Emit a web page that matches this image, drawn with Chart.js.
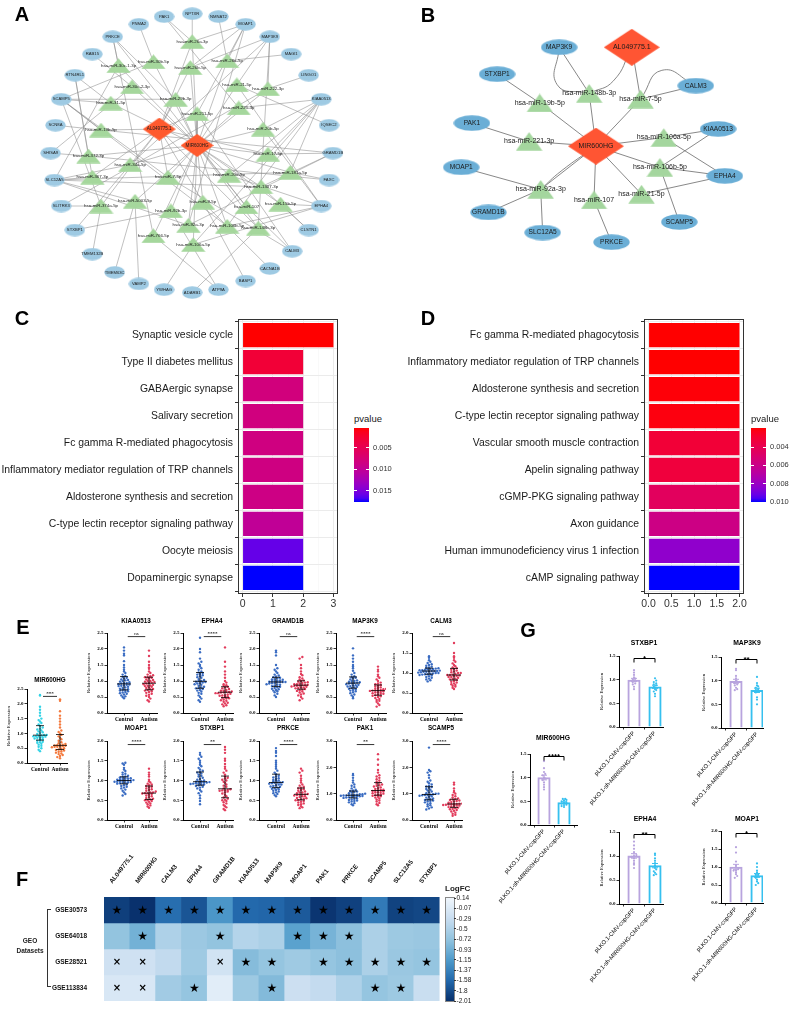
<!DOCTYPE html>
<html><head><meta charset="utf-8">
<script src="https://cdn.jsdelivr.net/npm/chart.js@4.4.1/dist/chart.umd.min.js"></script>
<style>
html,body{margin:0;padding:0;background:#fff}
body{width:789px;height:1017px;position:relative;overflow:hidden}
canvas{position:absolute}
.t{position:absolute;white-space:nowrap;line-height:1}
.cb{position:absolute}
</style></head><body>
<script>
const SANS='"Liberation Sans", Arial, Helvetica, sans-serif';
const SERIF='"Liberation Serif", "Times New Roman", serif';
const DEJ='"DejaVu Sans", sans-serif';

/* ================= DATA ================= */
// ---- Panel A : network (name, layout x, layout y) ----
const genesA=[['PAK1',163,11],['NPTXR',192,8],['NMNAT2',219,11],['MOAP1',247,19],['MAP3K9',272,32],['MAGI1',294,50],['LINGO1',312,72],['KIAA0513',325,97],['IQSEC2',333,124],['GRAMD1B',337,153],['FAXC',333,181],['EPHA4',325,208],['CLSTN1',312,233],['CALM3',295,255],['CACNA1B',272,273],['BASP1',247,286],['ATP9A',219,295],['ADARB1',192,298],['YWHAG',163,295],['VAMP2',137,289],['TMEM63C',112,277],['TMEM132B',89,258],['STXBP1',71,233],['SLITRK3',57,208],['SLC12A5',50,181],['SHISA9',46,153],['SCN8A',51,124],['SCAMP5',57,97],['RTN4RL1',71,72],['RAB15',89,50],['PRKCE',110,32],['PNMA2',137,19]];
const mirsA=[['hsa-miR-26a-3p',192,37],['hsa-miR-30c-1-3p',116,62],['hsa-miR-30b-5p',152,58],['hsa-miR-26b-5p',190,64],['hsa-miR-26a-5p',228,57],['hsa-miR-30c-2-3p',130,84],['hsa-miR-21-5p',238,82],['hsa-miR-222-3p',270,86],['hsa-miR-31-5p',108,101],['hsa-miR-29b-3p',175,97],['hsa-miR-221-3p',240,106],['hsa-miR-211-5p',197,112],['hsa-miR-19b-5p',98,129],['hsa-miR-20b-5p',265,128],['hsa-miR-372-3p',85,156],['hsa-miR-17-5p',270,154],['hsa-miR-34a-5p',128,165],['hsa-miR-181a-5p',293,173],['hsa-miR-367-3p',89,178],['hsa-miR-7-5p',167,178],['hsa-miR-20a-5p',230,176],['hsa-miR-1307-3p',263,188],['hsa-miR-374a-5p',98,208],['hsa-miR-5003-5p',133,203],['hsa-miR-9-5p',203,204],['hsa-miR-92b-3p',170,213],['hsa-miR-107',248,209],['hsa-miR-15b-5p',283,206],['hsa-miR-92a-3p',188,228],['hsa-miR-106b-5p',228,229],['hsa-miR-148b-3p',260,231],['hsa-miR-766-5p',152,239],['hsa-miR-106a-5p',193,248]];
const lncA=[['AL049775.1',158,128],['MIR600HG',197,145]];
const mirTargetsA=[
['MIR600HG','AL049775.1','PAK1','MOAP1','NPTXR'],['MIR600HG','PRKCE','SLC12A5'],['MIR600HG','PNMA2','SCAMP5'],['MIR600HG','AL049775.1','MOAP1','MAP3K9'],['MIR600HG','MAGI1','MOAP1','NMNAT2'],
['MIR600HG','RAB15','SHISA9'],['MIR600HG','MAP3K9','IQSEC2','EPHA4'],['MIR600HG','LINGO1','MAP3K9','SLITRK3'],['MIR600HG','SCAMP5','RTN4RL1'],['MIR600HG','AL049775.1','PRKCE','SCAMP5'],
['MIR600HG','PAK1','KIAA0513'],['MIR600HG','AL049775.1','MOAP1','CALM3'],['AL049775.1','SCN8A','SCAMP5','GRAMD1B'],['MIR600HG','KIAA0513','EPHA4'],['MIR600HG','SHISA9','RTN4RL1','FAXC'],
['MIR600HG','AL049775.1','KIAA0513','GRAMD1B'],['MIR600HG','AL049775.1','SLC12A5','STXBP1','MAP3K9'],['MIR600HG','FAXC','SLC12A5','KIAA0513'],['AL049775.1','SLC12A5','RTN4RL1'],['MIR600HG','AL049775.1','CALM3','SCAMP5'],
['MIR600HG','EPHA4','KIAA0513'],['MIR600HG','CLSTN1','GRAMD1B','SLC12A5'],['AL049775.1','SLITRK3','TMEM132B','SCAMP5'],['MIR600HG','TMEM63C','VAMP2','SLC12A5'],['MIR600HG','AL049775.1','BASP1','CACNA1B'],
['MIR600HG','ATP9A','STXBP1'],['MIR600HG','PRKCE','CALM3'],['MIR600HG','EPHA4','CLSTN1'],['MIR600HG','MOAP1','GRAMD1B','SLC12A5'],['MIR600HG','EPHA4','KIAA0513','SCAMP5'],
['MIR600HG','MAP3K9','AL049775.1','ADARB1'],['MIR600HG','PRKCE','ATP9A'],['MIR600HG','YWHAG','KIAA0513','EPHA4']];

// ---- Panel B : core network ----
const genesB=[['MAP3K9',558,43],['STXBP1',494,71],['CALM3',699,83],['PAK1',468,122],['KIAA0513',722,128],['MOAP1',457,168],['EPHA4',729,177],['GRAMD1B',485,215],['SCAMP5',682,225],['SLC12A5',541,236],['PRKCE',612,246]];
const mirsB=[['hsa-miR-148b-3p',589,91],['hsa-miR-7-5p',642,97],['hsa-miR-19b-5p',538,101],['hsa-miR-221-3p',527,141],['hsa-miR-106a-5p',666,137],['hsa-miR-106b-5p',662,168],['hsa-miR-92a-3p',539,191],['hsa-miR-107',594,202],['hsa-miR-21-5p',643,196]];
const lncB=[['AL049775.1',633,43],['MIR600HG',596,146]];
const edgesB=[['MAP3K9','hsa-miR-148b-3p'],['MAP3K9','hsa-miR-148b-3p',[556,82]],['AL049775.1','hsa-miR-148b-3p',[614,78]],['AL049775.1','hsa-miR-7-5p'],['CALM3','hsa-miR-7-5p'],['CALM3','hsa-miR-7-5p',[664,67]],
['STXBP1','hsa-miR-19b-5p'],['hsa-miR-19b-5p','MIR600HG'],['hsa-miR-148b-3p','MIR600HG'],['hsa-miR-7-5p','MIR600HG'],['PAK1','hsa-miR-221-3p'],['hsa-miR-221-3p','MIR600HG'],
['MIR600HG','hsa-miR-106a-5p'],['hsa-miR-106a-5p','KIAA0513'],['hsa-miR-106a-5p','EPHA4'],['MIR600HG','hsa-miR-106b-5p'],['hsa-miR-106b-5p','EPHA4'],['hsa-miR-106b-5p','KIAA0513'],['hsa-miR-106b-5p','SCAMP5'],
['MIR600HG','hsa-miR-21-5p'],['hsa-miR-21-5p','EPHA4'],['MIR600HG','hsa-miR-107'],['hsa-miR-107','PRKCE'],['MIR600HG','hsa-miR-92a-3p'],['MIR600HG','hsa-miR-92a-3p',[560,172]],
['hsa-miR-92a-3p','MOAP1'],['hsa-miR-92a-3p','GRAMD1B'],['hsa-miR-92a-3p','SLC12A5']];

// ---- Panel C / D : KEGG enrichment ----
const pathwaysC=['Synaptic vesicle cycle','Type II diabetes mellitus','GABAergic synapse','Salivary secretion','Fc gamma R-mediated phagocytosis','Inflammatory mediator regulation of TRP channels','Aldosterone synthesis and secretion','C-type lectin receptor signaling pathway','Oocyte meiosis','Dopaminergic synapse'];
const countC=[3,2,2,2,2,2,2,2,2,2];
const pvalC=[0.00035,0.0029,0.0080,0.0082,0.0083,0.0084,0.0086,0.0100,0.0160,0.0176];
const pTicksC=[0.005,0.010,0.015];
const xTicksC=[0,1,2,3];
const pathwaysD=['Fc gamma R-mediated phagocytosis','Inflammatory mediator regulation of TRP channels','Aldosterone synthesis and secretion','C-type lectin receptor signaling pathway','Vascular smooth muscle contraction','Apelin signaling pathway','cGMP-PKG signaling pathway','Axon guidance','Human immunodeficiency virus 1 infection','cAMP signaling pathway'];
const countD=[2,2,2,2,2,2,2,2,2,2];
const pvalD=[0.0019,0.0019,0.0020,0.0021,0.0031,0.0033,0.0044,0.0058,0.0083,0.0100];
const pTicksD=[0.004,0.006,0.008,0.010];
const xTicksD=[0,0.5,1,1.5,2];

// ---- Panel E : relative expression (Control vs Autism) ----
const MIR600HG_Control=[2.3,2.28,1.9,1.8,1.7,1.6,1.5,1.45,1.4,1.35,1.3,1.25,1.2,1.16,1.13,1.1,1.07,1.04,1.01,0.98,0.95,0.93,0.91,0.9,0.89,0.87,0.85,0.83,0.8,0.78,0.75,0.72,0.7,0.68,0.65,0.62,0.58,0.55,0.5,0.45,0.4,0.9,0.95,0.85];
const MIR600HG_Autism=[2.15,2.1,1.75,1.6,1.5,1.4,1.3,1.2,1.1,1.05,1.0,0.95,0.9,0.85,0.8,0.75,0.7,0.67,0.64,0.62,0.6,0.59,0.58,0.57,0.56,0.55,0.53,0.5,0.48,0.46,0.44,0.42,0.4,0.38,0.35,0.32,0.3,0.27,0.24,0.2,0.16,0.58,0.6,0.55];
const KIAA0513_Control=[2.05,1.95,1.85,1.8,1.62,1.5,1.42,1.35,1.3,1.25,1.2,1.16,1.13,1.1,1.08,1.05,1.02,1.0,0.98,0.96,0.94,0.92,0.9,0.89,0.88,0.86,0.84,0.82,0.8,0.78,0.76,0.74,0.72,0.7,0.68,0.66,0.64,0.62,0.6,0.58,0.55,0.52,0.5,0.46,0.72,0.85,0.93,1.03];
const KIAA0513_Autism=[1.95,1.78,1.6,1.5,1.42,1.38,1.3,1.25,1.2,1.18,1.15,1.12,1.1,1.08,1.05,1.03,1.0,0.98,0.97,0.95,0.94,0.92,0.9,0.88,0.86,0.84,0.82,0.8,0.78,0.75,0.72,0.7,0.68,0.66,0.63,0.6,0.57,0.54,0.5,0.45,0.4,0.36,1.0,1.12,0.85,0.74];
const EPHA4_Control=[2.35,2.0,1.9,1.7,1.6,1.55,1.5,1.45,1.4,1.35,1.3,1.27,1.25,1.22,1.18,1.15,1.12,1.1,1.06,1.03,1.0,0.98,0.97,0.95,0.92,0.9,0.88,0.85,0.82,0.8,0.77,0.75,0.72,0.7,0.67,0.63,0.6,0.55,0.5,0.45,0.4,0.35,1.0,1.2,0.78,0.93];
const EPHA4_Autism=[2.05,1.6,1.45,1.3,1.2,1.1,1.0,0.95,0.9,0.87,0.85,0.82,0.8,0.77,0.75,0.72,0.7,0.68,0.67,0.66,0.65,0.64,0.62,0.6,0.58,0.56,0.54,0.52,0.5,0.48,0.46,0.45,0.42,0.4,0.38,0.35,0.32,0.3,0.27,0.24,0.21,0.66,0.7,0.55,0.62];
const GRAMD1B_Control=[1.95,1.9,1.8,1.5,1.4,1.35,1.3,1.25,1.2,1.17,1.14,1.12,1.1,1.08,1.06,1.04,1.02,1.0,0.99,0.98,0.97,0.96,0.95,0.94,0.92,0.9,0.88,0.86,0.84,0.82,0.8,0.78,0.76,0.74,0.72,0.7,0.68,0.65,0.6,0.55,0.5,0.97,1.0,0.93,1.05,0.88];
const GRAMD1B_Autism=[1.75,1.7,1.5,1.4,1.3,1.22,1.18,1.12,1.08,1.05,1.02,1.0,0.98,0.96,0.94,0.92,0.9,0.89,0.88,0.87,0.86,0.85,0.84,0.82,0.8,0.78,0.77,0.75,0.73,0.71,0.69,0.67,0.64,0.61,0.58,0.55,0.5,0.45,0.4,0.87,0.9,0.83,0.95,0.8];
const MAP3K9_Control=[2.02,1.8,1.7,1.6,1.5,1.45,1.4,1.32,1.25,1.2,1.15,1.12,1.1,1.08,1.05,1.02,1.0,0.98,0.96,0.94,0.93,0.92,0.9,0.88,0.86,0.84,0.82,0.8,0.78,0.76,0.74,0.72,0.7,0.68,0.65,0.62,0.58,0.55,0.5,0.46,0.95,1.0,0.87,0.83];
const MAP3K9_Autism=[1.45,1.35,1.3,1.2,1.15,1.1,1.05,1.0,0.95,0.92,0.9,0.87,0.85,0.83,0.8,0.78,0.76,0.74,0.72,0.71,0.7,0.69,0.68,0.66,0.64,0.62,0.6,0.58,0.56,0.54,0.52,0.5,0.47,0.44,0.41,0.38,0.35,0.3,0.25,0.2,0.7,0.75,0.6,0.65];
const CALM3_Control=[1.42,1.38,1.32,1.28,1.25,1.22,1.2,1.18,1.16,1.14,1.13,1.12,1.11,1.1,1.09,1.08,1.07,1.06,1.05,1.05,1.04,1.03,1.02,1.01,1.0,0.99,0.98,0.97,0.96,0.95,0.94,0.92,0.9,0.88,0.86,0.84,0.82,0.79,1.05,1.1,1.0,1.07,1.03,0.97];
const CALM3_Autism=[1.75,1.5,1.42,1.38,1.32,1.28,1.24,1.2,1.17,1.14,1.12,1.1,1.08,1.06,1.04,1.02,1.0,0.98,0.96,0.95,0.94,0.93,0.92,0.9,0.88,0.86,0.84,0.82,0.8,0.78,0.76,0.74,0.72,0.7,0.68,0.66,0.63,0.6,0.95,1.0,0.85,0.9];
const MOAP1_Control=[1.45,1.43,1.4,1.32,1.28,1.24,1.2,1.17,1.15,1.12,1.1,1.09,1.08,1.06,1.05,1.04,1.03,1.02,1.01,1.0,1.0,0.99,0.98,0.97,0.96,0.95,0.94,0.93,0.92,0.9,0.88,0.86,0.84,0.82,0.8,0.77,0.74,0.7,0.66,0.62,1.0,1.05,0.95,0.97];
const MOAP1_Autism=[1.3,1.2,1.15,1.1,1.02,0.98,0.95,0.92,0.9,0.88,0.86,0.84,0.82,0.8,0.78,0.76,0.74,0.72,0.7,0.68,0.67,0.66,0.64,0.62,0.6,0.58,0.56,0.54,0.52,0.5,0.48,0.46,0.44,0.42,0.4,0.37,0.34,0.31,0.68,0.7,0.5];
const STXBP1_Control=[1.7,1.65,1.6,1.55,1.5,1.45,1.4,1.36,1.32,1.28,1.25,1.22,1.2,1.18,1.15,1.12,1.1,1.07,1.04,1.02,1.0,0.98,0.97,0.96,0.95,0.94,0.93,0.92,0.91,0.9,0.89,0.88,0.86,0.84,0.82,0.8,0.76,0.72,0.68,0.62,0.55,0.48,0.4,0.95,0.97,0.93];
const STXBP1_Autism=[1.85,1.78,1.7,1.55,1.5,1.42,1.35,1.3,1.25,1.2,1.15,1.1,1.07,1.05,1.02,1.0,0.97,0.94,0.9,0.87,0.84,0.8,0.78,0.76,0.75,0.74,0.72,0.7,0.67,0.64,0.6,0.57,0.54,0.51,0.5,0.48,0.45,0.42,0.38,0.35,0.32,0.28,0.25,0.75];
const PRKCE_Control=[1.82,1.75,1.7,1.62,1.5,1.45,1.4,1.35,1.3,1.25,1.2,1.16,1.12,1.1,1.08,1.06,1.04,1.02,1.0,0.98,0.96,0.95,0.94,0.93,0.92,0.9,0.88,0.86,0.84,0.82,0.8,0.79,0.78,0.76,0.74,0.72,0.7,0.68,0.66,0.63,0.6,0.95,1.0,0.9,0.85];
const PRKCE_Autism=[1.3,1.25,1.2,1.12,1.05,1.0,0.95,0.9,0.87,0.84,0.82,0.8,0.78,0.76,0.74,0.72,0.7,0.68,0.66,0.65,0.64,0.63,0.62,0.6,0.58,0.56,0.54,0.52,0.5,0.48,0.46,0.44,0.42,0.4,0.38,0.35,0.32,0.3,0.65,0.6,0.7,0.55,0.5];
const PAK1_Control=[1.75,1.7,1.6,1.5,1.42,1.35,1.3,1.25,1.2,1.15,1.12,1.1,1.08,1.06,1.04,1.02,1.0,0.98,0.96,0.95,0.94,0.93,0.92,0.91,0.9,0.89,0.88,0.86,0.85,0.84,0.82,0.8,0.78,0.76,0.74,0.72,0.7,0.67,0.64,0.6,0.56,0.93,0.95,0.9,0.98];
const PAK1_Autism=[2.5,2.3,2.1,1.9,1.8,1.7,1.65,1.6,1.55,1.5,1.45,1.42,1.38,1.35,1.32,1.3,1.27,1.24,1.21,1.18,1.15,1.12,1.1,1.08,1.06,1.04,1.02,1.0,0.98,0.96,0.94,0.92,0.9,0.88,0.85,0.82,0.78,0.74,0.7,0.65,0.6,0.56,1.1,1.15,1.05];
const SCAMP5_Control=[2.75,1.9,1.85,1.8,1.7,1.6,1.5,1.45,1.4,1.35,1.3,1.27,1.25,1.22,1.18,1.15,1.12,1.08,1.05,1.02,1.0,0.98,0.96,0.95,0.94,0.92,0.9,0.88,0.85,0.82,0.8,0.78,0.76,0.74,0.72,0.7,0.67,0.64,0.6,0.56,0.52,0.48,0.44,0.4,0.95,1.0];
const SCAMP5_Autism=[1.42,1.35,1.2,1.1,1.05,1.0,0.95,0.9,0.86,0.82,0.8,0.78,0.76,0.74,0.72,0.7,0.68,0.66,0.64,0.62,0.61,0.6,0.59,0.58,0.57,0.55,0.53,0.51,0.49,0.47,0.45,0.43,0.41,0.38,0.35,0.32,0.28,0.24,0.2,0.16,0.6,0.62,0.55];
const eTicks25=[0,0.5,1,1.5,2,2.5], eTicks20=[0,0.5,1,1.5,2], eTicks30=[0,1,2,3];
const eGroups=['Control','Autism'];

// ---- Panel F : LogFC heatmap ----
const genesF=['AL049775.1','MIR600HG','CALM3','EPHA4','GRAMD1B','KIAA0513','MAP3K9','MOAP1','PAK1','PRKCE','SCAMP5','SLC12A5','STXBP1'];
const geoF=['GSE30573','GSE64018','GSE28521','GSE113834'];
const logFC_GSE30573=[-1.90,-2.00,-1.54,-1.73,-1.19,-1.58,-1.60,-1.69,-1.97,-1.88,-1.43,-1.87,-1.84];
const logFC_GSE64018=[-0.72,-0.92,-0.50,-0.65,-0.72,-0.45,-0.52,-1.08,-0.90,-0.76,-0.52,-0.64,-0.66];
const logFC_GSE28521=[-0.22,-0.22,-0.34,-0.62,-0.19,-0.80,-0.70,-0.62,-0.70,-0.76,-0.52,-0.66,-0.70];
const logFC_GSE113834=[-0.12,-0.12,-0.60,-0.70,-0.02,-0.64,-0.82,-0.25,-0.32,-0.50,-0.70,-0.64,-0.28];
const mark_GSE30573=['s','s','s','s','s','s','s','s','s','s','s','s','s'];
const mark_GSE64018=['','s','','','s','','','s','s','s','','',''];
const mark_GSE28521=['x','x','','','x','s','s','','s','s','s','s','s'];
const mark_GSE113834=['x','x','','s','','','s','','','','s','s',''];
const logFCTicks=['0.14','-0.07','-0.29','-0.5','-0.72','-0.93','-1.15','-1.37','-1.58','-1.8','-2.01'];

// ---- Panel G : knock-down qPCR ----
const gGroups=['pLKO.1-CMV-copGFP','pLKO.1-sh-MIR600HG-CMV-copGFP'];
const G_MIR600HG_ctrl=[1.35,1.2,1.12,1.08,1.05,1.0,0.98,0.95,0.9,0.85,0.8,0.75];
const G_MIR600HG_sh=[0.55,0.55,0.53,0.52,0.5,0.48,0.47,0.45,0.43,0.42,0.4,0.38];
const G_STXBP1_ctrl=[1.2,1.15,1.1,1.05,1.02,1.0,0.98,0.95,0.92,0.9,0.85,0.8];
const G_STXBP1_sh=[1.03,0.98,0.95,0.92,0.9,0.88,0.85,0.8,0.78,0.75,0.7,0.65];
const G_MAP3K9_ctrl=[1.25,1.22,1.1,1.05,1.0,0.98,0.95,0.92,0.9,0.85,0.82,0.8];
const G_MAP3K9_sh=[1.08,0.95,0.9,0.88,0.85,0.82,0.8,0.78,0.75,0.65,0.6,0.5];
const G_EPHA4_ctrl=[1.3,1.22,1.15,1.08,1.02,1.0,0.98,0.95,0.9,0.85,0.82,0.75];
const G_EPHA4_sh=[1.05,1.02,0.95,0.9,0.85,0.8,0.75,0.72,0.68,0.65,0.62,0.6];
const G_MOAP1_ctrl=[1.55,1.4,1.15,1.05,1.0,0.95,0.9,0.9,0.85,0.8,0.75,0.7];
const G_MOAP1_sh=[1.1,1.0,0.9,0.85,0.8,0.78,0.75,0.7,0.65,0.6,0.55,0.5];
const gTicks15=[0,0.5,1,1.5], gTicks20=[0,0.5,1,1.5,2];

/* ================= HELPERS ================= */
Chart.defaults.font.family=SANS;
Chart.defaults.color='#000';
function T(s,x,y,o){o=o||{};const d=document.createElement('div');d.className='t';d.textContent=s;const st=d.style;
 st.left=x+'px';st.top=y+'px';st.fontSize=(o.size||10)+'px';st.fontWeight=o.bold?'700':'400';st.fontFamily=o.font||SANS;st.color=o.color||'#000';
 const ax=o.align==='l'?'0%':o.align==='r'?'-100%':'-50%';st.transform='translate('+ax+',-50%)';document.body.appendChild(d);return d;}
function box(l,t,w,h,css){const d=document.createElement('div');d.className='cb';Object.assign(d.style,{left:l+'px',top:t+'px',width:w+'px',height:h+'px'},css||{});document.body.appendChild(d);return d;}
function mk(area,m,cfg){
 const [x0,y0,x1,y1]=area;const W=Math.round(x1-x0+m[0]+m[2]),H=Math.round(y1-y0+m[1]+m[3]);
 const c=document.createElement('canvas');c.width=W;c.height=H;
 Object.assign(c.style,{left:(x0-m[0])+'px',top:(y0-m[1])+'px',width:W+'px',height:H+'px'});
 document.body.appendChild(c);
 const o=cfg.options=cfg.options||{};
 o.responsive=false;o.maintainAspectRatio=false;o.animation=false;o.devicePixelRatio=1;o.events=[];
 o.plugins=Object.assign({legend:{display:false},tooltip:{enabled:false},title:{display:false}},o.plugins||{});
 let L=false,Tp=false,B=false;
 for(const k in o.scales){const s=o.scales[k];if(s.display===false)continue;
  const pos=s.position||(k[0]==='x'?'bottom':'left');
  if(pos==='left')L=true;if(pos==='top')Tp=true;if(pos==='bottom')B=true;
  s.afterFit=sc=>{if(pos==='left')sc.width=m[0];else if(pos==='top')sc.height=m[1];else if(pos==='bottom')sc.height=m[3];};}
 o.layout={padding:{left:L?0:m[0],top:Tp?0:m[1],right:m[2],bottom:B?0:m[3]}};
 return new Chart(c,cfg);}
function q(arr,p){const s=[...arr].sort((a,b)=>a-b);const i=(s.length-1)*p,lo=Math.floor(i),hi=Math.ceil(i);return s[lo]+(s[hi]-s[lo])*(i-lo);}
function mean(a){return a.reduce((p,c)=>p+c,0)/a.length;}
function sem(a){const m=mean(a);return Math.sqrt(a.reduce((p,c)=>p+(c-m)*(c-m),0)/(a.length-1))/Math.sqrt(a.length);}
function swarm(vals,cx,pxY,pxX,d,dx){dx=dx||d;const s=[...vals].sort((a,b)=>a-b);const bins=new Map();
 s.forEach(v=>{const b=Math.round(v*pxY/d);if(!bins.has(b))bins.set(b,[]);bins.get(b).push(v);});
 const out=[];bins.forEach(arr=>{const n=arr.length;arr.forEach((v,k)=>out.push({x:cx+(k-(n-1)/2)*dx/pxX,y:v}));});return out;}
// colour scales
function s2l(c){c/=255;return c<=0.04045?c/12.92:Math.pow((c+0.055)/1.055,2.4);}
function l2s(c){c=c<=0.0031308?12.92*c:1.055*Math.pow(c,1/2.4)-0.055;return Math.round(Math.max(0,Math.min(1,c))*255);}
function rgb2lab(r,g,b){r=s2l(r);g=s2l(g);b=s2l(b);const X=(0.4124*r+0.3576*g+0.1805*b)/0.95047,Y=0.2126*r+0.7152*g+0.0722*b,Z=(0.0193*r+0.1192*g+0.9505*b)/1.08883;
 const f=t=>t>0.008856?Math.cbrt(t):7.787*t+16/116;const fx=f(X),fy=f(Y),fz=f(Z);return [116*fy-16,500*(fx-fy),200*(fy-fz)];}
function lab2rgb(L,a,b){const fy=(L+16)/116,fx=fy+a/500,fz=fy-b/200;const fi=t=>t*t*t>0.008856?t*t*t:(t-16/116)/7.787;
 const X=fi(fx)*0.95047,Y=fi(fy),Z=fi(fz)*1.08883;
 return 'rgb('+l2s(3.2406*X-1.5372*Y-0.4986*Z)+','+l2s(-0.9689*X+1.8758*Y+0.0415*Z)+','+l2s(0.0557*X-0.2040*Y+1.0570*Z)+')';}
const LR=rgb2lab(255,0,0),LB=rgb2lab(0,0,255);
function redBlue(t){t=Math.max(0,Math.min(1,t));return lab2rgb(LR[0]+(LB[0]-LR[0])*t,LR[1]+(LB[1]-LR[1])*t,LR[2]+(LB[2]-LR[2])*t);}
const BLUES=[[0,[240,246,252]],[0.2,[200,221,240]],[0.4,[147,196,223]],[0.6,[79,155,203]],[0.8,[35,105,172]],[1,[8,48,107]]];
function blues(t){t=Math.max(0,Math.min(1,t));for(let i=1;i<BLUES.length;i++){if(t<=BLUES[i][0]){const [a,ca]=BLUES[i-1],[b,cb]=BLUES[i];const u=(t-a)/(b-a);return 'rgb('+ca.map((v,j)=>Math.round(v+(cb[j]-v)*u)).join(',')+')';}}return 'rgb(8,48,107)';}
function shape(k,w,h,c){const cv=document.createElement('canvas');cv.width=w;cv.height=h;const g=cv.getContext('2d');g.fillStyle=c;g.beginPath();
 if(k==='e')g.ellipse(w/2,h/2,w/2-0.3,h/2-0.3,0,0,Math.PI*2);
 else if(k==='t'){g.moveTo(w/2,0.3);g.lineTo(w-0.3,h-0.3);g.lineTo(0.3,h-0.3);g.closePath();}
 else{g.moveTo(w/2,0);g.lineTo(w,h/2);g.lineTo(w/2,h);g.lineTo(0,h/2);g.closePath();}
 g.fill();return cv;}
function yTitle(txt,font,dx){return {id:'yt',afterDraw(ch){const {ctx,chartArea:a}=ch;ctx.save();ctx.translate(a.left-dx,(a.top+a.bottom)/2);ctx.rotate(-Math.PI/2);ctx.font=font;ctx.fillStyle='#000';ctx.textAlign='center';ctx.textBaseline='middle';ctx.fillText(txt,0,0);ctx.restore();}};}
const frame={id:'frame',afterDraw(ch){const {ctx,chartArea:a}=ch;ctx.save();ctx.strokeStyle='#333';ctx.lineWidth=1;ctx.strokeRect(Math.round(a.left)+0.5,Math.round(a.top)+0.5,Math.round(a.width)-1,Math.round(a.height)-1);ctx.restore();}};

/* ================= NETWORKS (A, B) ================= */
function network(area,genes,mirs,lncs,edges,st){
 const pos={};[...genes,...mirs,...lncs].forEach(([n,x,y])=>pos[n]={x,y});
 const ds=[];
 edges.forEach(([a,b,via])=>{const pts=[pos[a]];if(via)pts.push({x:via[0],y:via[1]});pts.push(pos[b]);
  ds.push({type:'line',data:pts,borderColor:st.ec,borderWidth:st.ew,pointRadius:0,tension:via?0.5:0,order:5,fill:false});});
 ds.push({type:'scatter',data:genes.map(([n,x,y])=>({x,y})),pointStyle:shape('e',st.eW,st.eH,st.eC),pointRadius:5,order:1});
 ds.push({type:'scatter',data:mirs.map(([n,x,y])=>({x,y})),pointStyle:shape('t',st.tW,st.tH,st.tC),pointRadius:5,order:1});
 ds.push({type:'scatter',data:lncs.map(([n,x,y])=>({x,y})),pointStyle:shape('d',st.dW,st.dH,st.dC),pointRadius:5,order:1});
 const lab={id:'lab',afterDatasetsDraw(ch){const {ctx,scales:{x,y}}=ch;ctx.save();ctx.fillStyle='#1a1a1a';ctx.textAlign='center';ctx.textBaseline='middle';
  ctx.font=st.gf;genes.forEach(([n,a,b])=>ctx.fillText(n,x.getPixelForValue(a),y.getPixelForValue(b)));
  ctx.font=st.mf;mirs.forEach(([n,a,b])=>ctx.fillText(n,x.getPixelForValue(a),y.getPixelForValue(b)+st.mdy));
  ctx.font=st.lf;lncs.forEach(([n,a,b])=>ctx.fillText(n,x.getPixelForValue(a),y.getPixelForValue(b)));ctx.restore();}};
 mk(area,[0,0,0,0],{type:'scatter',data:{datasets:ds},options:{scales:{x:{type:'linear',min:area[0],max:area[2],display:false},y:{type:'linear',min:area[1],max:area[3],reverse:true,display:false}}},plugins:[lab]});}
const edgesA=[];mirsA.forEach(([n],i)=>mirTargetsA[i].forEach(t=>edgesA.push([n,t])));
network([0,0,400,312],genesA,mirsA,lncA,edgesA,{ec:'#8c8c8c',ew:0.55,eW:21,eH:13,eC:'#9ECAE3',tW:25,tH:15,tC:'#A5D79C',dW:33,dH:23,dC:'#FF5A2E',gf:'4.2px '+SANS,mf:'4.4px '+SANS,lf:'4.6px '+SANS,mdy:0});
network([400,0,789,300],genesB,mirsB,lncB,edgesB,{ec:'#7a7a7a',ew:0.9,eW:37,eH:16,eC:'#6AAED6',tW:27,tH:19,tC:'#A4D69E',dW:56,dH:37,dC:'#FF5533',gf:'6.6px '+SANS,mf:'7px '+SANS,lf:'7px '+SANS,mdy:0});

/* ================= C, D ================= */
function pathwayChart(area,labels,counts,pvals,xmin,xmax,majors,minors,fmt){
 const pmin=Math.min(...pvals),pmax=Math.max(...pvals);
 const cols=pvals.map(p=>redBlue((p-pmin)/(pmax-pmin)));
 const tks=[...majors,...minors].sort((a,b)=>a-b);const isMaj=v=>majors.some(m=>Math.abs(m-v)<1e-9);
 mk(area,[area[0],10,10,20],{type:'bar',data:{datasets:[{data:counts.map((c,i)=>({x:c,y:i+1})),backgroundColor:cols,borderWidth:0,barPercentage:0.9,categoryPercentage:1}]},
  options:{indexAxis:'y',scales:{
   x:{type:'linear',min:xmin,max:xmax,offset:false,afterBuildTicks:s=>{s.ticks=tks.map(v=>({value:v}));},
      ticks:{callback:v=>isMaj(v)?fmt(v):'',font:{family:SANS,size:10.5},color:'#333',padding:1,autoSkip:false,maxRotation:0},
      grid:{color:c=>isMaj(c.tick.value)?'#EBEBEB':'#F5F5F5',lineWidth:c=>isMaj(c.tick.value)?1:0.6,tickLength:3,tickColor:c=>isMaj(c.tick.value)?'#333':'rgba(0,0,0,0)'},border:{display:false}},
   y:{type:'linear',min:0.4,max:10.6,reverse:true,offset:false,afterBuildTicks:s=>{s.ticks=labels.map((l,i)=>({value:i+1}));},
      ticks:{callback:v=>labels[Math.round(v)-1],font:{family:SANS,size:10.4},color:'#1a1a1a',padding:2,autoSkip:false},
      grid:{color:'#EBEBEB',lineWidth:1,tickLength:3,tickColor:'#333'},border:{display:false}}}},plugins:[frame]});
 return [pmin,pmax];}
function pLegend(l,t,w,h,range,ticks,fmt){
 T('pvalue',l,t-9,{size:9.5,align:'l',color:'#1a1a1a'});
 const stops=[];for(let i=0;i<=20;i++)stops.push(redBlue(i/20)+' '+(i*5)+'%');
 box(l,t,w,h,{background:'linear-gradient(to bottom,'+stops.join(',')+')'});
 ticks.forEach(v=>{const y=t+(v-range[0])/(range[1]-range[0])*h;
  box(l,y-0.5,3,1,{background:'#fff'});box(l+w-3,y-0.5,3,1,{background:'#fff'});
  T(fmt(v),l+w+4,y,{size:7.5,align:'l',color:'#333'});});}
const rC=pathwayChart([238,319,338,594],pathwaysC,countC,pvalC,-0.15,3.15,xTicksC,[0.5,1.5,2.5],v=>String(v));
pLegend(354,428,15,74,rC,pTicksC,v=>v.toFixed(3));
const rD=pathwayChart([644,319,744,594],pathwaysD,countD,pvalD,-0.1,2.1,xTicksD,[0.25,0.75,1.25,1.75],v=>v.toFixed(1));
pLegend(751,428,15,74,rD,pTicksD,v=>v.toFixed(3));

/* ================= E ================= */
function axX(min,max,labels,font,rot,tl){return {type:'linear',min,max,offset:false,afterBuildTicks:s=>{s.ticks=[{value:1},{value:2}];},
 ticks:{callback:v=>labels[Math.round(v)-1]||'',font,color:'#000',padding:rot?0.5:1,autoSkip:false,minRotation:rot||0,maxRotation:rot||0},
 grid:{drawOnChartArea:false,drawTicks:true,tickLength:tl||2.5,tickColor:'#000',tickWidth:0.8},border:{display:true,color:'#000',width:1}};}
function axY(ymax,ticks){return {type:'linear',min:0,max:ymax,afterBuildTicks:s=>{s.ticks=ticks.map(v=>({value:v}));},
 ticks:{callback:v=>v.toFixed(1),font:{family:SERIF,size:5,weight:'bold'},color:'#000',padding:1,autoSkip:false},
 grid:{drawOnChartArea:false,drawTicks:true,tickLength:2.5,tickColor:'#000',tickWidth:0.8},border:{display:true,color:'#000',width:1}};}
function ePlot(s){
 const {title,x0,w,yTop,yBot,ymax,ticks,xmin,xmax,ctrl,aut,sig,sf,cols,tx,ty}=s;
 const pxY=(yBot-yTop)/ymax,pxX=w/(xmax-xmin);
 const plug={id:'stats',afterDatasetsDraw(ch){const {ctx,scales:{x,y}}=ch;ctx.save();ctx.strokeStyle='#000';ctx.lineWidth=0.8;
  [[ctrl,1],[aut,2]].forEach(([d,g])=>{const md=q(d,0.5),q1=q(d,0.25),q3=q(d,0.75),px=x.getPixelForValue(g);
   const hl=(v,hw)=>{const py=y.getPixelForValue(v);ctx.beginPath();ctx.moveTo(px-hw,py);ctx.lineTo(px+hw,py);ctx.stroke();};
   hl(md,7);hl(q1,4);hl(q3,4);ctx.beginPath();ctx.moveTo(px,y.getPixelForValue(q1));ctx.lineTo(px,y.getPixelForValue(q3));ctx.stroke();});
  const sy=y.getPixelForValue(ymax*sf);ctx.beginPath();ctx.moveTo(x.getPixelForValue(1.15),sy);ctx.lineTo(x.getPixelForValue(1.85),sy);ctx.stroke();
  ctx.fillStyle='#000';ctx.textAlign='center';ctx.textBaseline='alphabetic';ctx.font=(sig==='ns'?'':'bold ')+'5px '+SERIF;ctx.fillText(sig,x.getPixelForValue(1.5),sy-1.2);ctx.restore();}};
 mk([x0,yTop,x0+w,yBot],[22,12,6,14],{type:'scatter',data:{datasets:[
   {data:swarm(ctrl,1,pxY,pxX,2.3,2.7),backgroundColor:cols[0],pointRadius:1.2,pointBorderWidth:0},
   {data:swarm(aut,2,pxY,pxX,2.3,2.7),backgroundColor:cols[1],pointRadius:1.2,pointBorderWidth:0}]},
  options:{scales:{x:axX(xmin,xmax,eGroups,{family:SERIF,size:5.5,weight:'bold'}),y:axY(ymax,ticks)}},
  plugins:[plug,yTitle('Relative Expression','5px '+SERIF,18)]});
 T(title,tx,ty,{size:6.3,bold:true});}
const EB=['#3A6CC2','#E23C5C'];
ePlot({title:'MIR600HG',x0:27,w:40,yTop:689,yBot:763,ymax:2.5,ticks:eTicks25,xmin:0.35,xmax:2.35,ctrl:MIR600HG_Control,aut:MIR600HG_Autism,sig:'***',sf:0.9,cols:['#33D3E6','#F47A3E'],tx:50,ty:680});
const EX=[107,183,259,336,412];
const eRow1=[['KIAA0513',KIAA0513_Control,KIAA0513_Autism,2.5,eTicks25,'ns'],['EPHA4',EPHA4_Control,EPHA4_Autism,2.5,eTicks25,'****'],['GRAMD1B',GRAMD1B_Control,GRAMD1B_Autism,2.5,eTicks25,'ns'],['MAP3K9',MAP3K9_Control,MAP3K9_Autism,2.5,eTicks25,'****'],['CALM3',CALM3_Control,CALM3_Autism,2.0,eTicks20,'ns']];
const eRow2=[['MOAP1',MOAP1_Control,MOAP1_Autism,2.0,eTicks20,'****'],['STXBP1',STXBP1_Control,STXBP1_Autism,2.0,eTicks20,'**'],['PRKCE',PRKCE_Control,PRKCE_Autism,2.0,eTicks20,'****'],['PAK1',PAK1_Control,PAK1_Autism,3.0,eTicks30,'**'],['SCAMP5',SCAMP5_Control,SCAMP5_Autism,3.0,eTicks30,'****']];
[[eRow1,633,713,621],[eRow2,741,820,728]].forEach(([row,yt,yb,ty])=>row.forEach(([t,c,a,ym,tk,sg],i)=>
 ePlot({title:t,x0:EX[i],w:50,yTop:yt,yBot:yb,ymax:ym,ticks:tk,xmin:0.32,xmax:2.32,ctrl:c,aut:a,sig:sg,sf:0.955,cols:EB,tx:EX[i]+29,ty})));

/* ================= F ================= */
const logFC=[logFC_GSE30573,logFC_GSE64018,logFC_GSE28521,logFC_GSE113834];
const marks=[mark_GSE30573,mark_GSE64018,mark_GSE28521,mark_GSE113834];
const fcMax=parseFloat(logFCTicks[0]),fcMin=parseFloat(logFCTicks[logFCTicks.length-1]);
const fcT=v=>(fcMax-v)/(fcMax-fcMin);
const markPlug={id:'marks',afterDatasetsDraw(ch){const {ctx,scales:{x,y}}=ch;ctx.save();ctx.fillStyle='#000';ctx.textAlign='center';ctx.textBaseline='middle';
 marks.forEach((row,r)=>row.forEach((m,c)=>{if(!m)return;const px=x.getPixelForValue(c),py=y.getPixelForValue(r+0.5);
  if(m==='s'){ctx.font='12px '+DEJ;ctx.fillText('\u2605',px,py+0.5);}else{ctx.font='bold 10px '+DEJ;ctx.fillText('\u00d7',px,py+0.5);}}));ctx.restore();}};
mk([104,897,440,1001],[104,58,6,16],{type:'bar',data:{labels:genesF,datasets:geoF.map((g,r)=>({data:genesF.map(()=>[r,r+1]),backgroundColor:logFC[r].map(v=>blues(fcT(v))),borderWidth:0,barPercentage:1,categoryPercentage:1,grouped:false}))},
 options:{scales:{x:{type:'category',position:'top',offset:true,grid:{display:false},border:{display:false},ticks:{font:{family:SANS,size:6.3,weight:'bold'},color:'#111',minRotation:52,maxRotation:52,autoSkip:false,padding:4}},
  y:{type:'linear',min:0,max:4,reverse:true,afterBuildTicks:s=>{s.ticks=geoF.map((g,i)=>({value:i+0.5}));},ticks:{callback:v=>geoF[Math.floor(v)],font:{family:SANS,size:6.5,weight:'bold'},color:'#111',padding:9,autoSkip:false},grid:{display:false},border:{display:false}}}},plugins:[markPlug]});
T('GEO',30,941,{size:6.5,bold:true,color:'#222'});T('Datasets',30,951,{size:6.5,bold:true,color:'#222'});
box(47,909,4,78,{borderLeft:'1.2px solid #333',borderTop:'1.2px solid #333',borderBottom:'1.2px solid #333',boxSizing:'border-box'});
T('LogFC',445,889,{size:8,bold:true,align:'l',color:'#222'});
{const stops=[];for(let i=0;i<=20;i++)stops.push(blues(i/20)+' '+(i*5)+'%');
 box(446,898,8,103,{background:'linear-gradient(to bottom,'+stops.join(',')+')',outline:'0.5px solid #888'});
 logFCTicks.forEach((s,i)=>{const y=898+i*103/(logFCTicks.length-1);box(454,y-0.5,2,1,{background:'#333'});T(s,456.5,y,{size:6.5,align:'l',color:'#222'});});}

/* ================= G ================= */
const GC=['#B8A4DE','#36C0EF'];
function gPlot(s){
 const {title,area,xmin,xmax,ymax,ticks,ctrl,sh,sig,tx,ty}=s;
 const pxY=(area[3]-area[1])/ymax,pxX=(area[2]-area[0])/(xmax-xmin);
 const plug={id:'gst',afterDatasetsDraw(ch){const {ctx,scales:{x,y}}=ch;ctx.save();
  [[ctrl,1,GC[0]],[sh,2,GC[1]]].forEach(([d,g,c])=>{const m=mean(d),e=sem(d),px=x.getPixelForValue(g);const a=y.getPixelForValue(m+e),b=y.getPixelForValue(m-e);
   ctx.strokeStyle=c;ctx.lineWidth=1;ctx.beginPath();ctx.moveTo(px,a);ctx.lineTo(px,b);ctx.moveTo(px-3,a);ctx.lineTo(px+3,a);ctx.moveTo(px-3,b);ctx.lineTo(px+3,b);ctx.stroke();});
  const by=Math.round(y.getPixelForValue(ymax*0.975))+0.5,x1=x.getPixelForValue(1),x2=x.getPixelForValue(2);
  ctx.strokeStyle='#000';ctx.lineWidth=1;ctx.beginPath();ctx.moveTo(x1,by+4);ctx.lineTo(x1,by);ctx.lineTo(x2,by);ctx.lineTo(x2,by+4);ctx.stroke();
  ctx.fillStyle='#000';ctx.font='bold 8px '+SANS;ctx.textAlign='center';ctx.textBaseline='alphabetic';ctx.fillText(sig,(x1+x2)/2,by+2.5);ctx.restore();}};
 mk(area,[40,16,8,85],{type:'bar',data:{datasets:[
   {type:'bar',data:[{x:1,y:mean(ctrl)},{x:2,y:mean(sh)}],backgroundColor:'rgba(255,255,255,0)',borderColor:GC,borderWidth:1.4,barThickness:12.5,order:3},
   {type:'scatter',data:swarm(ctrl,1,pxY,pxX,2.4),backgroundColor:GC[0],pointRadius:1.1,pointBorderWidth:0,order:1},
   {type:'scatter',data:swarm(sh,2,pxY,pxX,2.4),backgroundColor:GC[1],pointRadius:1.1,pointBorderWidth:0,order:1}]},
  options:{scales:{x:axX(xmin,xmax,gGroups,{family:SANS,size:5.8},48,2.5),y:Object.assign(axY(ymax,ticks),{beginAtZero:true})}},
  plugins:[plug,yTitle('Relative Expression','4.6px '+SERIF,17)]});
 T(title,tx,ty,{size:6.8,bold:true});}
gPlot({title:'MIR600HG',area:[530,754,577,825],xmin:0.3,xmax:2.65,ymax:1.5,ticks:gTicks15,ctrl:G_MIR600HG_ctrl,sh:G_MIR600HG_sh,sig:'****',tx:553,ty:738});
gPlot({title:'STXBP1',area:[619,656,663,727],xmin:0.286,xmax:2.381,ymax:1.5,ticks:gTicks15,ctrl:G_STXBP1_ctrl,sh:G_STXBP1_sh,sig:'*',tx:644,ty:643});
gPlot({title:'MAP3K9',area:[721,657,763,728],xmin:0.286,xmax:2.286,ymax:1.5,ticks:gTicks15,ctrl:G_MAP3K9_ctrl,sh:G_MAP3K9_sh,sig:'**',tx:747,ty:643});
gPlot({title:'EPHA4',area:[619,832,663,904],xmin:0.286,xmax:2.381,ymax:1.5,ticks:gTicks15,ctrl:G_EPHA4_ctrl,sh:G_EPHA4_sh,sig:'**',tx:645,ty:819});
gPlot({title:'MOAP1',area:[721,831,763,903],xmin:0.286,xmax:2.286,ymax:2.0,ticks:gTicks20,ctrl:G_MOAP1_ctrl,sh:G_MOAP1_sh,sig:'*',tx:747,ty:819});

/* ================= panel letters ================= */
[['A',22,14],['B',428,15],['C',22,318],['D',428,318],['E',23,627],['F',22,879],['G',528,630]].forEach(([l,x,y])=>T(l,x,y,{size:20,bold:true}));
</script>
</body></html>
